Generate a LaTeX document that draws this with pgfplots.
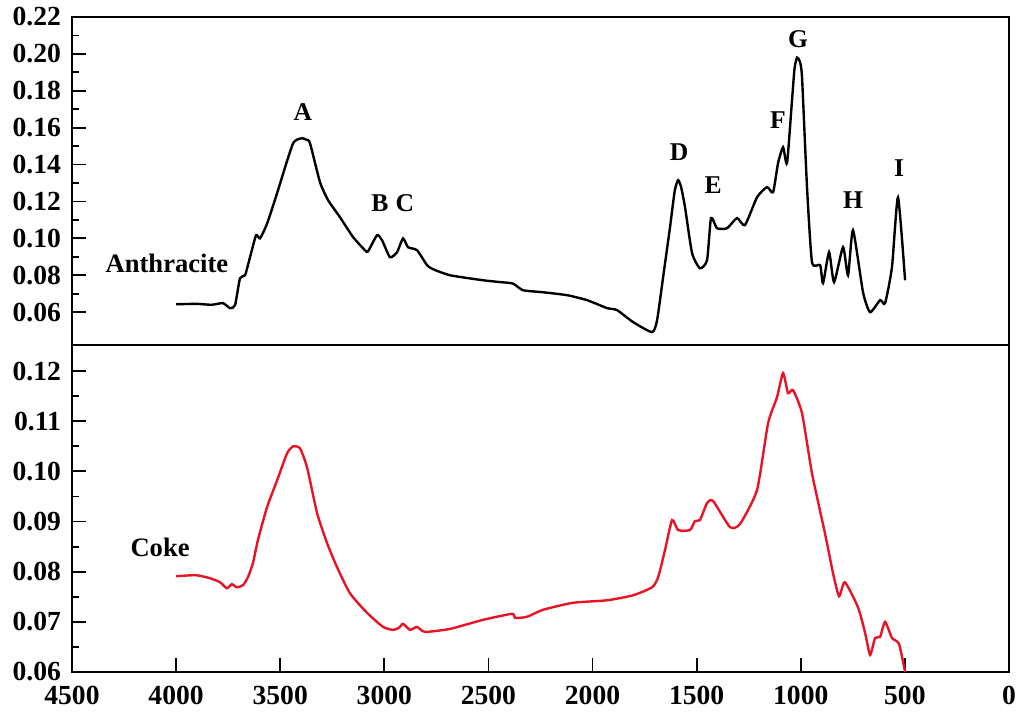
\documentclass[border=0pt]{standalone}
\usepackage{pgfplots}
\pgfplotsset{compat=1.18}
\usepackage{fontspec}
\setmainfont{Liberation Serif}

\definecolor{cokered}{RGB}{232,20,38}

\tikzset{lbl/.style={font=\fontsize{12.8}{15}\selectfont\bfseries}}

\pgfplotsset{
  panel/.style={
    width=468.5pt, scale only axis,
    xmin=0, xmax=4500, x dir=reverse,
    axis line style={line width=1pt},
    tick style={line width=0.9pt, black},
    tick align=inside,
    ytick pos=left,
    major tick length=7pt, minor tick length=3.5pt,
    minor y tick num=1,
    /pgf/number format/assume math mode=true,
    every tick label/.append style={font=\fontsize{13.8}{16}\selectfont\bfseries},
    y tick label style={xshift=-2pt,/pgf/number format/.cd, fixed, fixed zerofill, precision=2},
    x tick label style={/pgf/number format/1000 sep={}},
  },
}

\begin{document}
\begin{tikzpicture}
% lower panel: coke
\begin{axis}[panel, name=bot,
  height=163.5pt,
  ymin=0.06, ymax=0.1252,
  ytick={0.06,0.07,0.08,0.09,0.10,0.11,0.12},
  xtick={0,500,1000,1500,2000,2500,3000,3500,4000,4500},
  xtick pos=bottom,
  x tick label style={yshift=-3.5pt},
]
\addplot[cokered, line width=1.2pt, smooth, tension=0.35] coordinates {
(4000,0.0791) (3904,0.0793) (3837,0.0787) (3789,0.0779) (3756,0.0767)
(3732,0.0775) (3708,0.0769) (3679,0.0773) (3655,0.0789) (3631,0.0817)
(3607,0.0863) (3563,0.0929) (3515,0.0982) (3467,0.1036) (3438,0.1050)
(3405,0.1046) (3371,0.1008) (3323,0.0917) (3275,0.0857) (3227,0.0809)
(3165,0.0757) (3083,0.0718) (3006,0.0690) (2958,0.0684) (2930,0.0688)
(2910,0.0696) (2877,0.0684) (2843,0.0690) (2805,0.0680) (2684,0.0686)
(2526,0.0704) (2387,0.0716) (2372,0.0708) (2315,0.0710) (2238,0.0724)
(2094,0.0738) (1930,0.0743) (1805,0.0753) (1714,0.0769) (1685,0.0789)
(1652,0.0843) (1618,0.0903) (1589,0.0883) (1532,0.0883) (1508,0.0901)
(1484,0.0903) (1450,0.0937) (1421,0.0941) (1340,0.0889) (1292,0.0895)
(1210,0.0963) (1157,0.1096) (1114,0.1148) (1085,0.1196) (1061,0.1156)
(1037,0.1162) (994,0.1116) (946,0.0996) (884,0.0877) (845,0.0797)
(816,0.0751) (788,0.0779) (725,0.0729) (691,0.0678) (667,0.0634)
(643,0.0668) (619,0.0670) (595,0.0700) (562,0.0668) (528,0.0656)
(499,0.0600)
};
\node[font=\fontsize{13.3}{16}\selectfont\bfseries] at (axis cs:4077,0.0849) {Coke};
\end{axis}

% upper panel: anthracite
\begin{axis}[panel, name=top,
  at={(bot.north west)}, anchor=south west,
  height=164pt,
  ymin=0.0422, ymax=0.22,
  ytick={0.06,0.08,0.10,0.12,0.14,0.16,0.18,0.20,0.22},
  xtick=\empty,
]
\addplot[black, line width=1.2pt, smooth, tension=0.35] coordinates {
(4000,0.0643) (3900,0.0645) (3830,0.0640) (3775,0.0649) (3741,0.0622)
(3717,0.0638) (3693,0.0784) (3669,0.0800) (3645,0.0898) (3616,0.1017)
(3597,0.1000) (3563,0.1080) (3515,0.1245) (3467,0.1420) (3438,0.1516)
(3420,0.1535) (3395,0.1543) (3375,0.1535) (3357,0.1516) (3309,0.1305)
(3270,0.1207) (3213,0.1115) (3150,0.1007) (3093,0.0936) (3078,0.0930)
(3035,0.1017) (3011,0.0990) (2973,0.0898) (2939,0.0925) (2910,0.1000)
(2886,0.0952) (2843,0.0936) (2795,0.0855) (2766,0.0833) (2684,0.0800)
(2526,0.0773) (2444,0.0763) (2382,0.0755) (2334,0.0719) (2238,0.0708)
(2122,0.0692) (2026,0.0665) (1930,0.0622) (1882,0.0611) (1805,0.0546)
(1714,0.0492) (1690,0.0557) (1661,0.0790) (1628,0.1060) (1605,0.1260)
(1589,0.1315) (1575,0.1280) (1556,0.1170) (1522,0.0920) (1484,0.0838)
(1450,0.0882) (1431,0.1110) (1402,0.1055) (1354,0.1055) (1306,0.1110)
(1268,0.1072) (1210,0.1223) (1162,0.1278) (1133,0.1250) (1109,0.1408)
(1085,0.1494) (1066,0.1408) (1042,0.1749) (1030,0.1920) (1018,0.1980)
(1005,0.1960) (994,0.1874) (970,0.1278) (946,0.0871) (907,0.0855)
(893,0.0757) (864,0.0925) (840,0.0763) (797,0.0952) (773,0.0800)
(749,0.1044) (701,0.0708) (667,0.0600) (619,0.0665) (595,0.0649)
(562,0.0844) (533,0.1223) (499,0.0773)
};
\node[font=\fontsize{13.3}{16}\selectfont\bfseries] at (axis cs:4044,0.0866) {Anthracite};
\node[lbl] at (axis cs:3391,0.1684) {A};
\node[lbl] at (axis cs:3021,0.1190) {B};
\node[lbl] at (axis cs:2901,0.1190) {C};
\node[lbl] at (axis cs:1584,0.1467) {D};
\node[lbl] at (axis cs:1421,0.1288) {E};
\node[lbl] at (axis cs:1109,0.1640) {F};
\node[lbl] at (axis cs:1013,0.2080) {G};
\node[lbl] at (axis cs:749,0.1207) {H};
\node[lbl] at (axis cs:528,0.1380) {I};
\end{axis}

\path (bot.south west) ++(-36pt,-24pt) rectangle ++(515pt,360pt);
\end{tikzpicture}
\end{document}
